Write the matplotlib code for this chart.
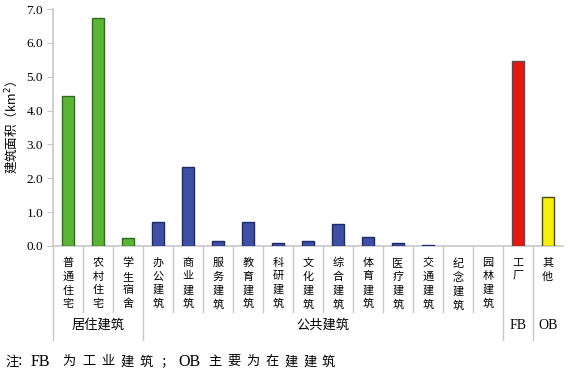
import numpy as np
import matplotlib.pyplot as plt
from matplotlib.transforms import blended_transform_factory

plt.rcParams['font.family'] = ['Noto Sans CJK SC', 'DejaVu Sans']

categories = ['普通住宅', '农村住宅', '学生宿舍',
              '办公建筑', '商业建筑', '服务建筑', '教育建筑', '科研建筑', '文化建筑',
              '综合建筑', '体育建筑', '医疗建筑', '交通建筑', '纪念建筑', '园林建筑',
              '工厂', '其他']
values = [4.42, 6.72, 0.24,
          0.70, 2.33, 0.16, 0.70, 0.10, 0.16,
          0.65, 0.27, 0.10, 0.02, 0.0, 0.0,
          5.45, 1.44]
groups = ['居住建筑', '公共建筑', 'FB', 'OB']
group_sizes = [3, 12, 1, 1]
group_colors = ['#5AB534', '#3F4FA3', '#E5170F', '#F8F00C']
group_edges = ['#2F6B20', '#1E2A6A', '#5A4A48', '#4A4A20']
note = ['注', '：', 'FB', '为', '工', '业', '建', '筑', '；', 'OB',
        '主', '要', '为', '在', '建', '建', '筑']
# pixel x of each note token (spaced-out typesetting of the original)
note_x = [5, 17, 31, 62, 82, 101, 120, 139, 160, 178, 208, 227, 246, 265, 284, 303, 322]

fig = plt.figure(figsize=(5.69, 3.75), dpi=100)
ax = fig.add_axes([0.093, 0.344, 0.896, 0.632])

x = np.arange(len(categories))
colors, edges = [], []
for g, n in enumerate(group_sizes):
    colors += [group_colors[g]] * n
    edges += [group_edges[g]] * n
lws = [1 if v > 0 else 0 for v in values]
ax.bar(x, values, width=0.4, color=colors, edgecolor=edges, linewidth=lws, zorder=3)

ax.set_xlim(-0.5, len(categories) - 0.5)
ax.set_ylim(0, 7)
ax.set_yticks(np.arange(0, 8, 1))
ax.set_yticklabels([f'{v:.1f}' for v in range(8)], family='Liberation Serif', fontsize=9.5)
ax.set_xticks([])
for s in ['top', 'right']:
    ax.spines[s].set_visible(False)
for s in ['left', 'bottom']:
    ax.spines[s].set_color('#C8C8C8')
    ax.spines[s].set_linewidth(1.2)
ax.tick_params(axis='y', direction='out', length=4, color='#C8C8C8', pad=3)
ax.set_ylabel('建筑面积（km$^2$）', fontsize=9, labelpad=4)

trans = blended_transform_factory(ax.transData, ax.transAxes)
# separators between categories
bounds = np.cumsum([0] + group_sizes) - 0.5
for b in np.arange(-0.5, len(categories) - 0.5):
    major = b in bounds
    ax.plot([b, b], [0, -0.397 if major else -0.278], transform=trans,
            color='#C8C8C8', lw=1, clip_on=False)

for xi, name in zip(x, categories):
    ax.text(xi, -0.05, '\n'.join(name), transform=trans, ha='center', va='top',
            fontsize=8, linespacing=1.42)

for g, name in enumerate(groups):
    c = (bounds[g] + bounds[g + 1]) / 2
    fam = ['Liberation Serif'] if name in ('FB', 'OB') else ['Noto Sans CJK SC']
    ax.text(c, -0.335, name, transform=trans, ha='center', va='center',
            fontsize=10 if name in ('FB', 'OB') else 9.5, family=fam)

for tok, px in zip(note, note_x):
    latin = tok.isascii()
    fig.text(px / 569, 0.035, tok, fontsize=11.5 if latin else 9.5, ha='left', va='center',
             family=['Liberation Serif'] if latin else ['Noto Sans CJK SC'])

fig.savefig('out.png', dpi=100)
